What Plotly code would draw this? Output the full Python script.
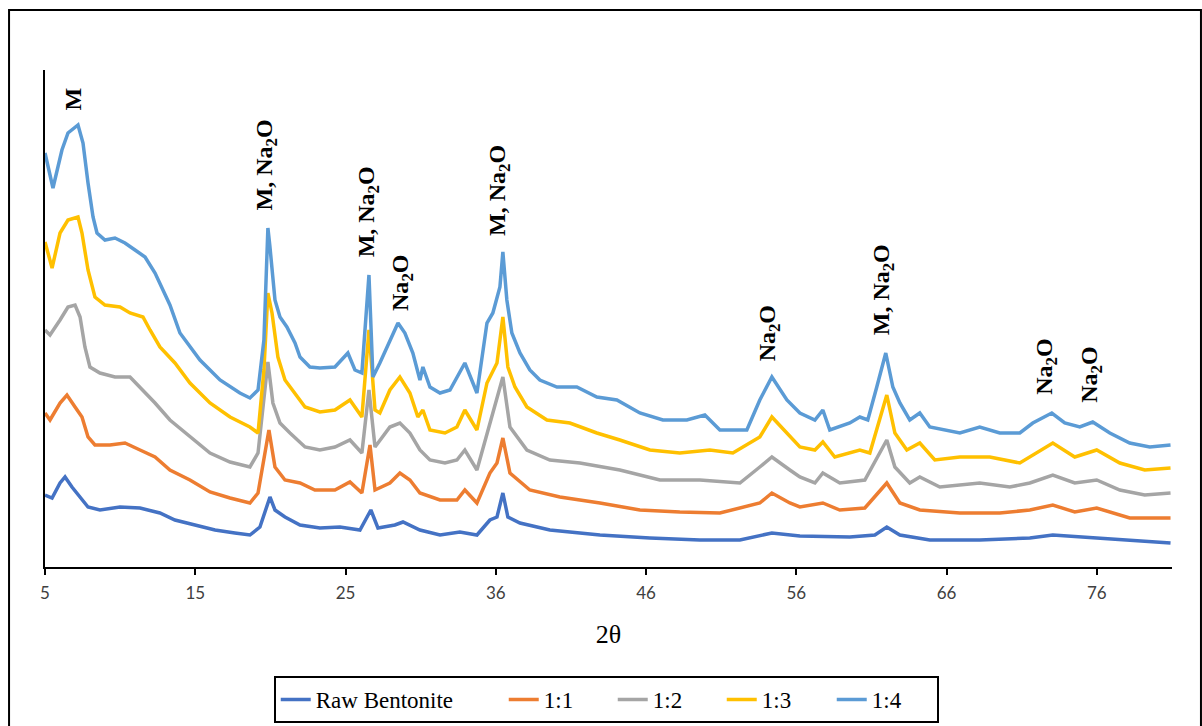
import plotly.graph_objects as go

# ---------------- data (2θ in degrees, intensity in a.u.) ----------------
x_raw = [5.00, 5.48, 6.02, 6.36, 6.83, 7.38, 7.92, 8.73, 10.09, 11.45, 12.80, 13.82, 15.18, 16.54,
         17.89, 18.91, 19.59, 20.27, 20.61, 21.29, 22.31, 23.66, 25.02, 26.38, 27.12, 27.60, 28.75,
         29.30, 30.45, 31.81, 33.16, 34.32, 35.20, 35.68, 36.08, 36.42, 37.24, 39.27, 42.67, 46.06,
         49.45, 52.17, 54.34, 56.24, 59.63, 61.33, 62.14, 63.03, 65.06, 68.45, 71.85, 73.41, 76.39, 81.40]
y_raw = [72, 69, 84, 90, 80, 70, 60, 57, 60, 59, 54, 47, 42, 37,
         34, 32, 40, 70, 57, 50, 42, 39, 40, 37, 57, 39, 42,
         45, 37, 32, 35, 32, 47, 50, 74, 50, 44, 37, 32, 29,
         27, 27, 34, 31, 30, 32, 40, 32, 27, 27, 29, 32, 29, 24]

x_11 = [5.00, 5.34, 6.02, 6.49, 7.04, 7.51, 7.92, 8.39, 9.41, 10.43, 11.45, 12.47, 13.48, 14.84,
        16.20, 17.56, 18.91, 19.46, 20.20, 20.61, 21.29, 22.31, 23.32, 24.68, 25.70, 26.51, 27.06,
        27.40, 28.41, 29.09, 29.77, 30.45, 31.81, 32.96, 33.50, 34.32, 35.20, 35.68, 36.08, 36.56,
        37.91, 39.95, 42.67, 45.38, 48.09, 50.81, 53.52, 54.34, 55.56, 56.24, 57.80, 58.95, 60.65,
        62.14, 63.03, 64.38, 67.10, 69.81, 71.85, 73.41, 74.90, 76.39, 78.63, 81.40]
y_11 = [154, 147, 164, 172, 160, 150, 130, 122, 122, 124, 117, 110, 97, 87,
        75, 69, 64, 74, 137, 100, 87, 84, 77, 77, 85, 74, 122,
        77, 84, 94, 87, 74, 67, 67, 77, 64, 94, 104, 129, 94,
        77, 70, 64, 57, 55, 54, 64, 74, 64, 60, 64, 57, 59,
        84, 64, 57, 54, 54, 57, 62, 55, 59, 49, 49]

x_12 = [5.00, 5.34, 6.02, 6.56, 7.04, 7.38, 7.71, 8.05, 8.73, 9.75, 10.77, 11.45, 12.47, 13.48,
        14.84, 16.20, 17.56, 18.91, 19.46, 20.13, 20.47, 20.95, 21.63, 22.65, 23.66, 24.68, 25.70,
        26.51, 26.99, 27.40, 28.41, 29.09, 29.77, 30.45, 31.13, 32.15, 32.96, 33.50, 34.32, 35.20,
        36.08, 36.56, 37.71, 39.27, 41.31, 44.02, 46.74, 49.45, 52.17, 53.52, 54.34, 55.56, 56.24,
        57.26, 57.80, 58.95, 60.65, 62.14, 62.69, 63.70, 64.38, 65.74, 68.45, 70.49, 71.85, 73.41,
        74.90, 76.39, 77.96, 79.65, 81.40]
y_12 = [237, 232, 247, 260, 262, 250, 220, 200, 194, 190, 190, 180, 164, 147,
        130, 114, 105, 100, 114, 205, 164, 144, 134, 120, 117, 120, 127,
        114, 177, 120, 140, 144, 134, 117, 107, 104, 107, 117, 97, 144,
        190, 140, 117, 107, 104, 97, 87, 87, 84, 100, 110, 97, 90,
        84, 94, 84, 87, 127, 100, 84, 90, 80, 84, 80, 84, 92,
        84, 87, 77, 72, 74]

x_13 = [5.00, 5.48, 6.02, 6.56, 7.24, 7.51, 7.92, 8.39, 9.07, 10.09, 10.77, 11.65, 12.13, 12.80,
        13.82, 14.84, 16.20, 17.56, 18.91, 19.46, 19.86, 20.13, 20.41, 20.81, 21.29, 21.97, 22.65,
        23.66, 24.68, 25.70, 26.51, 26.99, 27.40, 27.73, 28.41, 29.09, 29.77, 30.31, 30.65, 31.13,
        32.15, 32.96, 33.50, 34.32, 35.00, 35.68, 36.08, 36.42, 36.90, 37.71, 39.07, 40.63, 42.46,
        44.02, 46.06, 48.09, 50.13, 51.69, 53.52, 54.34, 55.56, 56.24, 57.26, 57.80, 58.61, 60.31,
        60.99, 62.14, 62.69, 63.50, 64.38, 65.40, 67.10, 69.13, 71.17, 73.41, 74.90, 76.39, 77.96,
        79.65, 81.40]
y_13 = [325, 299, 334, 347, 350, 334, 297, 270, 262, 260, 254, 250, 237, 220,
        204, 184, 164, 150, 140, 134, 197, 274, 254, 210, 187, 174, 160,
        155, 157, 167, 150, 237, 157, 154, 177, 190, 174, 150, 157, 137,
        134, 140, 157, 137, 184, 204, 250, 200, 180, 160, 147, 144, 134,
        127, 117, 114, 117, 114, 130, 150, 130, 120, 117, 125, 110, 117,
        114, 172, 134, 117, 124, 107, 110, 110, 104, 124, 110, 117, 104,
        97, 99]

x_14 = [5.00, 5.54, 6.15, 6.56, 7.24, 7.58, 7.92, 8.26, 8.53, 9.07, 9.75, 10.43, 11.11, 11.79,
        12.47, 13.01, 13.48, 14.16, 15.52, 16.88, 18.23, 18.91, 19.46, 19.86, 20.13, 20.27, 20.61,
        20.95, 21.42, 21.97, 22.31, 22.98, 23.66, 24.68, 25.56, 26.04, 26.51, 26.99, 27.26, 27.73,
        28.41, 28.96, 29.43, 29.97, 30.45, 30.65, 31.13, 31.81, 32.49, 33.30, 33.50, 34.32, 35.00,
        35.40, 35.88, 36.08, 36.35, 36.69, 37.24, 37.91, 38.59, 39.75, 41.10, 42.46, 43.82, 45.38,
        46.94, 48.57, 49.79, 50.81, 52.64, 53.52, 54.34, 55.36, 56.24, 57.26, 57.80, 58.27, 59.63,
        60.31, 60.85, 61.46, 62.07, 62.55, 63.03, 63.70, 64.38, 65.06, 67.10, 68.45, 69.81, 71.17,
        72.05, 73.34, 74.22, 75.24, 76.12, 77.28, 78.63, 79.99, 81.40]
y_14 = [414, 379, 417, 434, 442, 424, 384, 350, 334, 327, 329, 324, 317, 310,
        294, 277, 262, 234, 207, 187, 174, 169, 177, 227, 339, 320, 267,
        250, 240, 224, 210, 200, 199, 200, 214, 197, 194, 292, 190, 204,
        227, 244, 234, 214, 187, 200, 180, 174, 177, 200, 204, 174, 244,
        254, 280, 315, 267, 234, 214, 197, 187, 180, 180, 170, 167, 154,
        147, 147, 152, 137, 137, 167, 190, 167, 154, 147, 157, 137, 144,
        150, 147, 180, 214, 180, 164, 147, 154, 140, 134, 140, 134, 134,
        144, 154, 144, 140, 145, 134, 124, 120, 122]

series_names = ["Raw Bentonite", "1:1", "1:2", "1:3", "1:4"]
series_x = [x_raw, x_11, x_12, x_13, x_14]
series_y = [y_raw, y_11, y_12, y_13, y_14]
colors = ["#4472C4", "#ED7D31", "#A5A5A5", "#FFC000", "#5B9BD5"]
legend_widths = [183, 64, 64, 65, 60]

tick_vals = [5, 15.2, 25.4, 35.6, 45.8, 56, 66.2, 76.4]
tick_text = ["5", "15", "25", "36", "46", "56", "66", "76"]

peak_labels = ["M", "M, Na<sub>2</sub>O", "M, Na<sub>2</sub>O", "Na<sub>2</sub>O", "M, Na<sub>2</sub>O",
               "Na<sub>2</sub>O", "M, Na<sub>2</sub>O", "Na<sub>2</sub>O", "Na<sub>2</sub>O"]
peak_label_x = [6.93, 20.03, 26.95, 29.23, 35.81, 54.17, 61.90, 72.93, 75.99]
peak_label_y = [468, 402, 355, 284, 377, 234, 277, 200, 192]

# ---------------- figure ----------------
fig = go.Figure()
for name, xs, ys, c, lw in zip(series_names, series_x, series_y, colors, legend_widths):
    fig.add_trace(go.Scatter(x=xs, y=ys, mode="lines", name=name, legendwidth=lw,
                             line=dict(color=c, width=3.5)))

for txt, ax_, ay_ in zip(peak_labels, peak_label_x, peak_label_y):
    fig.add_annotation(x=ax_, y=ay_, text="<b>" + txt + "</b>", textangle=-90,
                       showarrow=False, xanchor="center", yanchor="middle",
                       font=dict(family="Liberation Serif", size=24, color="#000000"))

fig.update_layout(
    width=1202, height=726,
    margin=dict(l=45, r=30, t=70, b=159, autoexpand=False),
    paper_bgcolor="white", plot_bgcolor="white",
    showlegend=True,
    legend=dict(orientation="h", x=0.498, xanchor="center", y=-0.2194, yanchor="top",
                bordercolor="#000000", borderwidth=2, bgcolor="white",
                font=dict(family="Liberation Serif", size=23, color="#000000")),
    xaxis=dict(range=[5, 81.5], tickvals=tick_vals, ticktext=tick_text,
               showline=True, linecolor="#000000", linewidth=2,
               ticks="outside", ticklen=6, tickwidth=2, tickcolor="#000000",
               showgrid=False, zeroline=False,
               tickfont=dict(family="Lato", size=17, color="#404040"),
               ticklabelstandoff=4,
               title=dict(text="2θ", font=dict(family="Liberation Serif", size=26, color="#000000"),
                          standoff=22)),
    xaxis2=dict(range=[5, 81.5], matches="x", overlaying="x", anchor="y", side="bottom",
                tickvals=tick_vals, ticks="inside", ticklen=6, tickwidth=2, tickcolor="#000000",
                showticklabels=False, showline=False, showgrid=False, zeroline=False),
    yaxis=dict(range=[0, 497], showline=True, linecolor="#000000", linewidth=2,
               showticklabels=False, ticks="", showgrid=False, zeroline=False),
    shapes=[dict(type="rect", xref="paper", yref="paper",
                 x0=-0.0319, x1=1.0257, y0=-0.3239, y1=1.1207,
                 line=dict(color="#000000", width=2), fillcolor="rgba(0,0,0,0)", layer="above")],
)

fig.write_html("out.html", config={"displayModeBar": False},
               post_script="document.body.style.margin='0px';")
